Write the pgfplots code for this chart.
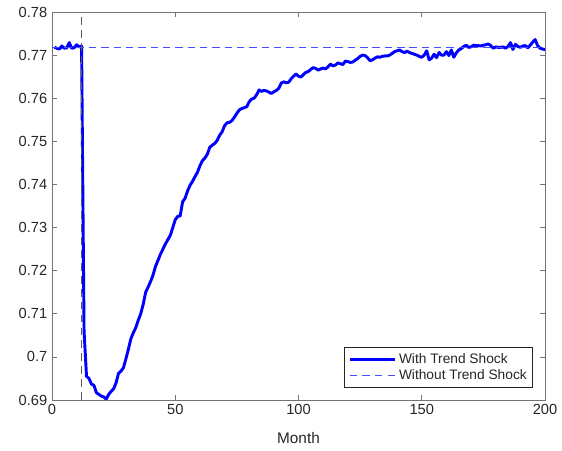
\documentclass[border=0pt]{standalone}
\usepackage{pgfplots}
\pgfplotsset{compat=1.18}
\usepackage{fontspec}
\setmainfont{Liberation Sans}
\begin{document}
\begin{tikzpicture}
\begin{axis}[
  scale only axis,
  width=369.75pt, height=291pt,
  xmin=0, xmax=200, ymin=0.69, ymax=0.78,
  unbounded coords=jump,
  xtick={0,50,100,150,200},
  ytick={0.69,0.70,0.71,0.72,0.73,0.74,0.75,0.76,0.77,0.78},
  yticklabel style={/pgf/number format/fixed,/pgf/number format/precision=2},
  /pgf/number format/assume math mode=true,
  tick label style={font=\fontsize{11}{13}\selectfont, text=black!85},
  label style={font=\fontsize{11.5}{13}\selectfont, text=black!85},
  xlabel={Month},
  xlabel style={yshift=-6pt},
  axis line style={black!55, line width=0.5pt},
  tick style={black!55, line width=0.5pt},
  major tick length=4pt,
  tick align=inside,
  legend style={at={(0.9757,0.031)}, anchor=south east, draw=black!85,
    font=\fontsize{10.3}{12}\selectfont, text=black!85, inner sep=2.5pt, row sep=-0.5pt},
  legend cell align=left,
  legend image code/.code={\draw[#1] (0pt,0pt) -- (34pt,0pt);},
]
\addplot[blue, line width=2.2pt, line join=round] coordinates {
(1,0.7718)(2,0.7716)(3,0.7714)(4,0.7721)(5,0.7716)(6,0.7717)(7,0.7729)(8,0.7716)(9,0.7717)(10,0.7724)
(11,0.7719)(12,0.7721)(13,0.7060)(14,0.6955)(15,0.6950)(16,0.6937)(17,0.6934)(18,0.6917)(19,0.6913)(20,0.6909)
(21,0.6907)(22,0.6902)(23,0.6913)(24,0.6920)(25,0.6926)(26,0.6940)(27,0.6962)(28,0.6967)(29,0.6975)(30,0.6996)
(31,0.7018)(32,0.7042)(33,0.7056)(34,0.7068)(35,0.7085)(36,0.7100)(37,0.7122)(38,0.7150)(39,0.7162)(40,0.7175)
(41,0.7190)(42,0.7210)(43,0.7224)(44,0.7238)(45,0.7250)(46,0.7262)(47,0.7272)(48,0.7282)(49,0.7300)(50,0.7318)
(51,0.7326)(52,0.7327)(53,0.7360)(54,0.7368)(55,0.7385)(56,0.7398)(57,0.7407)(58,0.7418)(59,0.7428)(60,0.7443)
(61,0.7455)(62,0.7461)(63,0.7470)(64,0.7486)(65,0.7491)(66,0.7495)(67,0.7502)(68,0.7514)(69,0.7522)(70,0.7536)
(71,0.7543)(72,0.7544)(73,0.7548)(74,0.7556)(75,0.7565)(76,0.7573)(77,0.7576)(78,0.7578)(79,0.7580)(80,0.7592)
(81,0.7598)(82,0.7600)(83,0.7608)(84,0.7619)(85,0.7616)(86,0.7618)(87,0.7617)(88,0.7614)(89,0.7611)(90,0.7615)
(91,0.7618)(92,0.7623)(93,0.7635)(94,0.7638)(95,0.7636)(96,0.7637)(97,0.7645)(98,0.7651)(99,0.7656)(100,0.7651)
(101,0.7649)(102,0.7655)(103,0.7660)(104,0.7662)(105,0.7667)(106,0.7671)(107,0.7669)(108,0.7665)(109,0.7668)(110,0.7670)
(111,0.7668)(112,0.7673)(113,0.7679)(114,0.7675)(115,0.7677)(116,0.7682)(117,0.7680)(118,0.7678)(119,0.7686)(120,0.7685)
(121,0.7683)(122,0.7684)(123,0.7688)(124,0.7692)(125,0.7697)(126,0.7700)(127,0.7699)(128,0.7694)(129,0.7687)(130,0.7689)
(131,0.7693)(132,0.7696)(133,0.7695)(134,0.7697)(135,0.7698)(136,0.7698)(137,0.7700)(138,0.7704)(139,0.7708)(140,0.7710)
(141,0.7712)(142,0.7708)(143,0.7706)(144,0.7709)(145,0.7706)(146,0.7704)(147,0.7702)(148,0.7700)(149,0.7697)(150,0.7695)
(151,0.7700)(152,0.7710)(153,0.7689)(154,0.7693)(155,0.7702)(156,0.7694)(157,0.7706)(158,0.7700)(159,0.7700)(160,0.7708)
(161,0.7699)(162,0.7712)(163,0.7695)(164,0.7705)(165,0.7712)(166,0.7715)(167,0.7720)(168,0.7723)(169,0.7718)(170,0.7719)
(171,0.7723)(172,0.7722)(173,0.7722)(174,0.7721)(175,0.7723)(176,0.7724)(177,0.7726)(178,0.7722)(179,0.7716)(180,0.7719)
(181,0.7718)(182,0.7718)(183,0.7719)(184,0.7716)(185,0.7720)(186,0.7729)(187,0.7713)(188,0.7725)(189,0.7720)(190,0.7718)
(191,0.7721)(192,0.7722)(193,0.7717)(194,0.7723)(195,0.7730)(196,0.7736)(197,0.7722)(198,0.7716)(199,0.7714)(200,0.7713)
};
\addlegendentry{With Trend Shock}
\addplot[blue!70, line width=0.75pt,
  legend image code/.code={\draw[blue!70, line width=0.75pt] (0pt,0pt)--(5.5pt,0pt) (9.5pt,0pt)--(15pt,0pt) (19pt,0pt)--(24.5pt,0pt) (28.5pt,0pt)--(34pt,0pt);}]
coordinates {
(0,0.7718)(3,0.7718)(4,nan)(5,0.7718)(8,0.7718)(9,nan)(10,0.7718)(13,0.7718)(14,nan)(15,0.7718)(18,0.7718)(19,nan)
(20,0.7718)(23,0.7718)(24,nan)(25,0.7718)(28,0.7718)(29,nan)(30,0.7718)(33,0.7718)(34,nan)(35,0.7718)(38,0.7718)(39,nan)
(40,0.7718)(43,0.7718)(44,nan)(45,0.7718)(48,0.7718)(49,nan)(50,0.7718)(53,0.7718)(54,nan)(55,0.7718)(58,0.7718)(59,nan)
(60,0.7718)(63,0.7718)(64,nan)(65,0.7718)(68,0.7718)(69,nan)(70,0.7718)(73,0.7718)(74,nan)(75,0.7718)(78,0.7718)(79,nan)
(80,0.7718)(83,0.7718)(84,nan)(85,0.7718)(88,0.7718)(89,nan)(90,0.7718)(93,0.7718)(94,nan)(95,0.7718)(98,0.7718)(99,nan)
(100,0.7718)(103,0.7718)(104,nan)(105,0.7718)(108,0.7718)(109,nan)(110,0.7718)(113,0.7718)(114,nan)(115,0.7718)(118,0.7718)(119,nan)
(120,0.7718)(123,0.7718)(124,nan)(125,0.7718)(128,0.7718)(129,nan)(130,0.7718)(133,0.7718)(134,nan)(135,0.7718)(138,0.7718)(139,nan)
(140,0.7718)(143,0.7718)(144,nan)(145,0.7718)(148,0.7718)(149,nan)(150,0.7718)(153,0.7718)(154,nan)(155,0.7718)(158,0.7718)(159,nan)
(160,0.7718)(163,0.7718)(164,nan)(165,0.7718)(168,0.7718)(169,nan)(170,0.7718)(173,0.7718)(174,nan)(175,0.7718)(178,0.7718)(179,nan)
(180,0.7718)(183,0.7718)(184,nan)(185,0.7718)(188,0.7718)(189,nan)(190,0.7718)(193,0.7718)(194,nan)(195,0.7718)(198,0.7718)
};
\addlegendentry{Without Trend Shock}
\addplot[black!65, line width=0.5pt, forget plot] coordinates {
(12,0.6900)(12,0.6918)(12,nan)(12,0.6930)(12,0.6948)(12,nan)(12,0.6960)(12,0.6978)(12,nan)(12,0.6990)(12,0.7008)(12,nan)
(12,0.7020)(12,0.7038)(12,nan)(12,0.7050)(12,0.7068)(12,nan)(12,0.7080)(12,0.7098)(12,nan)(12,0.7110)(12,0.7128)(12,nan)
(12,0.7140)(12,0.7158)(12,nan)(12,0.7170)(12,0.7188)(12,nan)(12,0.7200)(12,0.7218)(12,nan)(12,0.7230)(12,0.7248)(12,nan)
(12,0.7260)(12,0.7278)(12,nan)(12,0.7290)(12,0.7308)(12,nan)(12,0.7320)(12,0.7338)(12,nan)(12,0.7350)(12,0.7368)(12,nan)
(12,0.7380)(12,0.7398)(12,nan)(12,0.7410)(12,0.7428)(12,nan)(12,0.7440)(12,0.7458)(12,nan)(12,0.7470)(12,0.7488)(12,nan)
(12,0.7500)(12,0.7518)(12,nan)(12,0.7530)(12,0.7548)(12,nan)(12,0.7560)(12,0.7578)(12,nan)(12,0.7590)(12,0.7608)(12,nan)
(12,0.7620)(12,0.7638)(12,nan)(12,0.7650)(12,0.7668)(12,nan)(12,0.7680)(12,0.7698)(12,nan)(12,0.7710)(12,0.7728)(12,nan)
(12,0.7740)(12,0.7758)(12,nan)(12,0.7770)(12,0.7788)
};
\end{axis}
\pgfresetboundingbox
\path[use as bounding box] ([xshift=-39pt,yshift=-38.25pt]current axis.south west) rectangle ([xshift=12.75pt,yshift=9pt]current axis.north east);
\end{tikzpicture}
\end{document}
